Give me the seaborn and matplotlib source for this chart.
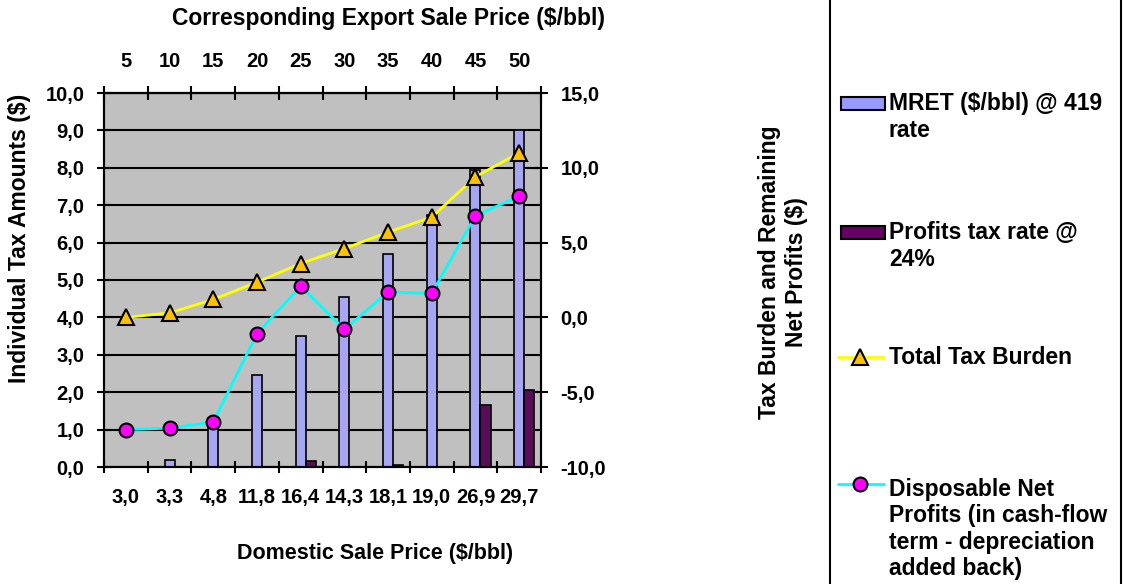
import numpy as np
import pandas as pd
import matplotlib
matplotlib.use('Agg')
import matplotlib.pyplot as plt
from matplotlib.patches import Rectangle
from matplotlib.lines import Line2D
import seaborn as sns

# data
domestic_price = ['3,0', '3,3', '4,8', '11,8', '16,4', '14,3', '18,1', '19,0', '26,9', '29,7']
export_price = [5, 10, 15, 20, 25, 30, 35, 40, 45, 50]
mret = [0.0, 0.2, 1.3, 2.45, 3.5, 4.55, 5.7, 6.75, 7.95, 9.0]
profits_tax = [0.0, 0.0, 0.0, 0.0, 0.15, 0.0, 0.06, 0.0, 1.65, 2.05]
total_tax = [0.0, 0.3, 1.2, 2.35, 3.6, 4.6, 5.7, 6.7, 9.4, 11.0]
net_profits = [-7.5, -7.4, -7.0, -1.1, 2.1, -0.8, 1.7, 1.6, 6.8, 8.1]

series_names = ['MRET ($/bbl) @ 419\nrate', 'Profits tax rate @\n24%',
                'Total Tax Burden',
                'Disposable Net\nProfits (in cash-flow\nterm - depreciation\nadded back)']

BLUE = '#9999FF'
PURPLE = '#660066'
GOLD = '#FFC000'
YELLOW = '#FFFF00'
CYAN = '#00FFFF'
MAGENTA = '#FF00FF'

sns.set_style('white')
plt.rcParams['font.family'] = ['Liberation Sans', 'DejaVu Sans']
plt.rcParams['font.weight'] = 'bold'
for key in ['text.color', 'axes.labelcolor', 'xtick.color', 'ytick.color']:
    plt.rcParams[key] = 'black'
TICK_FS = 14.5
TITLE_FS = 16.5
LEG_FS = 16.5

W, H = 1124, 584
fig = plt.figure(figsize=(W / 100, H / 100), dpi=100)
ax = fig.add_axes([104 / W, 1 - 467 / H, (541 - 104) / W, (467 - 93) / H])
ax.set_facecolor('#C0C0C0')

bars = pd.DataFrame({
    'cat': domestic_price * 2,
    'series': ['mret'] * 10 + ['ptax'] * 10,
    'value': mret + profits_tax,
})
sns.barplot(data=bars, x='cat', y='value', hue='series', order=domestic_price,
            palette=[BLUE, PURPLE], width=0.46, dodge=True, gap=0,
            edgecolor='black', linewidth=1.2, legend=False, ax=ax)
# excel draws the first bar on the category centre
for p in ax.patches:
    p.set_x(p.get_x() + 0.115)

ax.set_xlim(-0.5, 9.5)
ax.set_ylim(0, 10)
ax.set_yticks(np.arange(0, 11, 1))
ax.set_yticklabels([f'{v:.1f}'.replace('.', ',') for v in np.arange(0, 11, 1)])
ax.yaxis.grid(True, color='black', lw=1.5)
ax.set_axisbelow(True)
ax.set_xlabel('')
ax.set_ylabel('')
bounds = np.arange(-0.5, 10, 1)
ax.set_xticks(range(10))
ax.set_xticklabels(domestic_price)
ax.set_xticks(bounds, minor=True)
ax.tick_params(axis='x', which='major', length=0, pad=15, labelsize=TICK_FS)
ax.tick_params(axis='x', which='minor', length=8, width=1.5, direction='inout', bottom=True)
ax.tick_params(axis='y', length=10, width=1.5, direction='inout', left=True, pad=9, labelsize=TICK_FS)
for s in ax.spines.values():
    s.set_color('black')
    s.set_linewidth(1.5)

top = ax.secondary_xaxis('top')
top.set_xticks(range(10))
top.set_xticklabels([str(e) for e in export_price])
top.set_xticks(bounds, minor=True)
top.tick_params(which='major', length=0, pad=16, labelsize=TICK_FS)
top.tick_params(which='minor', length=10, width=1.5, direction='inout')
top.spines['top'].set_linewidth(1.5)

ax2 = ax.twinx()
x = np.arange(10)
sns.lineplot(x=x, y=total_tax, color=YELLOW, lw=2, marker='^', markersize=11,
             markerfacecolor=GOLD, markeredgecolor='black', markeredgewidth=1.5, ax=ax2)
sns.lineplot(x=x, y=net_profits, color=CYAN, lw=2, marker='o', markersize=10,
             markerfacecolor=MAGENTA, markeredgecolor='black', markeredgewidth=1.5, ax=ax2)
ax2.set_xlim(-0.5, 9.5)
ax2.set_ylim(-10, 15)
ax2.set_yticks(np.arange(-10, 16, 5))
ax2.set_yticklabels([f'{v:.1f}'.replace('.', ',') for v in np.arange(-10, 16, 5)])
ax2.tick_params(axis='y', length=10, width=1.5, direction='inout', right=True, pad=9, labelsize=TICK_FS)
ax2.grid(False)
for s in ax2.spines.values():
    s.set_color('black')
    s.set_linewidth(1.5)

# axis titles
fig.text(388 / W, 1 - 18 / H, 'Corresponding Export Sale Price ($/bbl)', ha='center', va='center', fontsize=TITLE_FS)
fig.text(375 / W, 1 - 553 / H, 'Domestic Sale Price ($/bbl)', ha='center', va='center', fontsize=15.5)
fig.text(20 / W, 1 - 238 / H, 'Individual Tax Amounts ($)', ha='center', va='center', rotation=90,
         fontsize=TITLE_FS)
fig.text(783 / W, 1 - 272 / H, 'Tax Burden and Remaining\nNet Profits ($)', ha='center', va='center',
         rotation=90, fontsize=TITLE_FS, multialignment='center', linespacing=1.2)

# legend box drawn by hand, entries spread over the full height
fig.add_artist(Rectangle((830 / W, -0.05), (1121 - 830) / W, 1.1, fill=False, lw=1.5,
                         edgecolor='black', transform=fig.transFigure))
tx = 889 / W
fig.add_artist(Rectangle((841 / W, 1 - 110 / H), 44 / W, 13 / H, facecolor=BLUE, edgecolor='black',
                         lw=1.5, transform=fig.transFigure))
fig.text(tx, 1 - 117 / H, series_names[0], ha='left', va='center', fontsize=LEG_FS, linespacing=1.25)
fig.add_artist(Rectangle((841 / W, 1 - 239 / H), 44 / W, 13 / H, facecolor=PURPLE, edgecolor='black',
                         lw=1.5, transform=fig.transFigure))
fig.text(tx, 1 - 246 / H, series_names[1], ha='left', va='center', fontsize=LEG_FS, linespacing=1.25)
fig.add_artist(Line2D([838 / W, 884 / W], [1 - 357 / H] * 2, color=YELLOW, lw=2, transform=fig.transFigure))
fig.add_artist(Line2D([860 / W], [1 - 357 / H], marker='^', markersize=11, markerfacecolor=GOLD,
                      markeredgecolor='black', markeredgewidth=1.5, transform=fig.transFigure))
fig.text(tx, 1 - 357 / H, series_names[2], ha='left', va='center', fontsize=LEG_FS)
fig.add_artist(Line2D([838 / W, 884 / W], [1 - 484 / H] * 2, color=CYAN, lw=2, transform=fig.transFigure))
fig.add_artist(Line2D([860 / W], [1 - 484 / H], marker='o', markersize=10, markerfacecolor=MAGENTA,
                      markeredgecolor='black', markeredgewidth=1.5, transform=fig.transFigure))
fig.text(tx, 1 - 529 / H, series_names[3], ha='left', va='center', fontsize=LEG_FS, linespacing=1.2)

fig.savefig('out.png', dpi=100)
